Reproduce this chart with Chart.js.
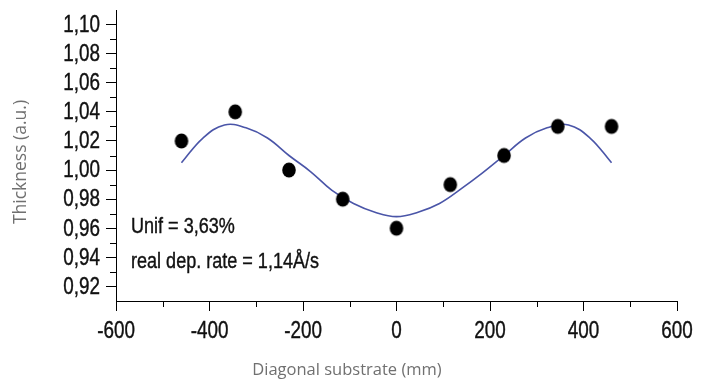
<!DOCTYPE html>
<html>
<head>
<meta charset="utf-8">
<script src="https://cdn.jsdelivr.net/npm/chart.js@4/dist/chart.umd.min.js"></script>
<style>
  html, body { margin: 0; padding: 0; background: #fff; }
  #wrap { width: 707px; height: 381px; }
</style>
</head>
<body>
<div id="wrap"><canvas id="chart" width="707" height="381"></canvas></div>
<script>
const positions = [-460, -345, -230, -115, 0, 115, 230, 345, 460];
const thickness = [1.02, 1.04, 1.0, 0.98, 0.96, 0.99, 1.01, 1.03, 1.03];

// fitted curve
const fitX = [-460, -414, -368, -322, -276, -230, -184, -138, -92, -46, 0, 46, 92, 138, 184, 230, 276, 322, 368, 414, 460];
const fitY = [1.005, 1.022, 1.031, 1.029, 1.022, 1.010, 0.999, 0.986, 0.977, 0.971, 0.968, 0.971, 0.977, 0.987, 0.998, 1.010, 1.022, 1.029, 1.031, 1.022, 1.005];

const xTicks = [-600, -400, -200, 0, 200, 400, 600];
const yTicks = [0.92, 0.94, 0.96, 0.98, 1.0, 1.02, 1.04, 1.06, 1.08, 1.1];
const xMinor = [-500, -300, -100, 100, 300, 500];
const yMinor = [0.93, 0.95, 0.97, 0.99, 1.01, 1.03, 1.05, 1.07, 1.09];
const notes = ["Unif = 3,63%", "real dep. rate = 1,14Å/s"];
const xTitle = "Diagonal substrate (mm)";
const yTitle = "Thickness (a.u.)";

const LABEL_FONT = '"Liberation Sans", Arial, sans-serif';
const TITLE_FONT = '"Open Sans", "Noto Sans", sans-serif';
const SQUEEZE = 0.82;

function dotImage() {
  const c = document.createElement("canvas");
  c.width = 16;
  c.height = 18;
  const g = c.getContext("2d");
  g.fillStyle = "#000";
  g.beginPath();
  g.ellipse(8, 9, 6.8, 7.6, 0, 0, Math.PI * 2);
  g.fill();
  return c;
}

function narrowText(ctx, text, x, y, align) {
  ctx.save();
  ctx.translate(x, y);
  ctx.scale(SQUEEZE, 1);
  ctx.textAlign = align;
  ctx.fillText(text, 0, 0);
  ctx.strokeText(text, 0, 0);
  ctx.restore();
}

const fmt = (v) => v.toFixed(2).replace(".", ",");

const axisDecor = {
  id: "axisDecor",
  afterDraw(chart) {
    const { ctx, scales: { x, y } } = chart;
    ctx.save();
    ctx.strokeStyle = "#000";
    ctx.lineWidth = 1;
    ctx.beginPath();
    xMinor.forEach((v) => {
      const px = Math.round(x.getPixelForValue(v)) + 0.5;
      ctx.moveTo(px, y.bottom);
      ctx.lineTo(px, y.bottom + 6);
    });
    yMinor.forEach((v) => {
      const py = Math.round(y.getPixelForValue(v)) + 0.5;
      ctx.moveTo(x.left, py);
      ctx.lineTo(x.left - 6, py);
    });
    ctx.stroke();

    // tick labels, narrow like the original
    ctx.fillStyle = "#111";
    ctx.strokeStyle = "#111";
    ctx.lineWidth = 0.4;
    ctx.font = "23px " + LABEL_FONT;
    ctx.textBaseline = "middle";
    yTicks.forEach((v) => narrowText(ctx, fmt(v), x.left - 16, y.getPixelForValue(v) + 1, "right"));
    xTicks.forEach((v) => narrowText(ctx, String(v), x.getPixelForValue(v), y.bottom + 31, "center"));

    // annotation
    ctx.font = "22px " + LABEL_FONT;
    ctx.textBaseline = "alphabetic";
    narrowText(ctx, notes[0], 131, 233, "left");
    narrowText(ctx, notes[1], 131, 268, "left");

    // axis titles
    ctx.fillStyle = "#707070";
    ctx.textBaseline = "middle";
    ctx.textAlign = "center";
    ctx.font = "16.5px " + TITLE_FONT;
    ctx.fillText(xTitle, 347, 370);
    ctx.save();
    ctx.translate(21, 162);
    ctx.rotate(-Math.PI / 2);
    ctx.font = "17.5px " + TITLE_FONT;
    ctx.fillText(yTitle, 0, 0);
    ctx.restore();
    ctx.restore();
  },
};

new Chart(document.getElementById("chart"), {
  type: "scatter",
  data: {
    datasets: [
      {
        label: "fit",
        type: "line",
        data: fitX.map((x, i) => ({ x, y: fitY[i] })),
        borderColor: "#4a55a8",
        borderWidth: 1.6,
        pointRadius: 0,
        tension: 0.4,
        fill: false,
        order: 2,
      },
      {
        label: "Thickness",
        data: positions.map((x, i) => ({ x, y: thickness[i] })),
        pointStyle: dotImage(),
        pointRadius: 8,
        order: 1,
      },
    ],
  },
  options: {
    responsive: false,
    animation: false,
    layout: { padding: { top: 10, right: 30, left: 0, bottom: 0 } },
    plugins: { legend: { display: false }, tooltip: { enabled: false } },
    scales: {
      x: {
        type: "linear",
        min: -600,
        max: 600,
        afterFit: (s) => { s.height = 80; },
        afterBuildTicks: (s) => { s.ticks = xTicks.map((value) => ({ value })); },
        border: { color: "#000", width: 1 },
        grid: { drawOnChartArea: false, tickLength: 10, color: "#000" },
        ticks: { display: false },
      },
      y: {
        type: "linear",
        min: 0.91,
        max: 1.11,
        afterFit: (s) => { s.width = 116; },
        afterBuildTicks: (s) => { s.ticks = yTicks.map((value) => ({ value })); },
        border: { color: "#000", width: 1 },
        grid: { drawOnChartArea: false, tickLength: 10, color: "#000" },
        ticks: { display: false },
      },
    },
  },
  plugins: [axisDecor],
});
</script>
</body>
</html>
